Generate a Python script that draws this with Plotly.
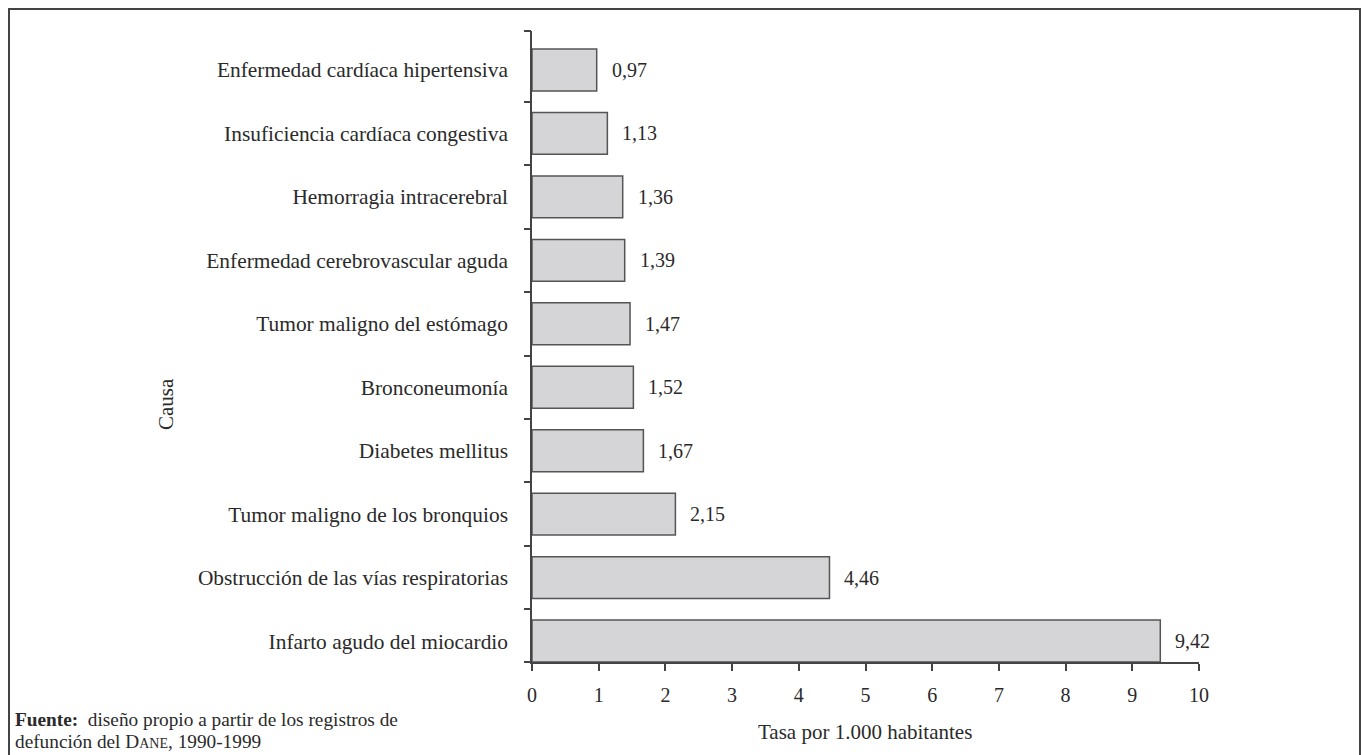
import plotly.graph_objects as go

causas = [
    "Infarto agudo del miocardio",
    "Obstrucción de las vías respiratorias",
    "Tumor maligno de los bronquios",
    "Diabetes mellitus",
    "Bronconeumonía",
    "Tumor maligno del estómago",
    "Enfermedad cerebrovascular aguda",
    "Hemorragia intracerebral",
    "Insuficiencia cardíaca congestiva",
    "Enfermedad cardíaca hipertensiva",
]
tasas = [9.42, 4.46, 2.15, 1.67, 1.52, 1.47, 1.39, 1.36, 1.13, 0.97]
x_ticks = [0, 1, 2, 3, 4, 5, 6, 7, 8, 9, 10]

FONT = "Liberation Serif, Times New Roman, serif"
TXT = "#2a2a2a"
FS = 21
BAR_W = 0.66

W, H = 1361, 755
L, R, T, B = 532, 162, 31, 93
pw, ph = W - L - R, H - T - B

# y range: bottom bar sits on the x axis; axis extends a little above the top bar
y_lo = -BAR_W / 2
y_hi = len(causas) - 1 + 0.614
# ticks between categories, plus caps at both ends of the axis
y_tick_pos = [y_lo] + [i + 0.5 for i in range(len(causas) - 1)] + [y_hi]

def px_x(px):
    return (px - L) / pw

def px_y(py):
    return (H - B - py) / ph

fig = go.Figure()
fig.add_trace(go.Bar(
    x=tasas, y=causas, orientation="h",
    marker=dict(color="#d5d5d7", line=dict(color="#555555", width=1.5)),
    width=BAR_W, showlegend=False, hoverinfo="x+y",
))
# invisible trace to anchor the tick-only axis
fig.add_trace(go.Scatter(
    x=[0], y=[0], yaxis="y2", mode="markers",
    marker=dict(opacity=0), showlegend=False, hoverinfo="skip",
))

annotations = []
for c, v in zip(causas, tasas):
    annotations.append(dict(
        x=v, y=c, xref="x", yref="y", text=f"{v:.2f}".replace(".", ","),
        showarrow=False, xanchor="left", yanchor="middle", xshift=13,
        font=dict(family=FONT, size=20, color=TXT),
    ))

annotations.append(dict(
    x=px_x(13), y=px_y(719), xref="paper", yref="paper",
    xanchor="left", yanchor="middle", align="left", showarrow=False,
    text="<b>Fuente:</b>  diseño propio a partir de los registros de",
    font=dict(family=FONT, size=19.3, color=TXT),
))
annotations.append(dict(
    x=px_x(13), y=px_y(741), xref="paper", yref="paper",
    xanchor="left", yanchor="middle", align="left", showarrow=False,
    text="defunción del D<span style='font-size:14px'>ANE</span>, 1990-1999",
    font=dict(family=FONT, size=19.3, color=TXT),
))
annotations.append(dict(
    x=px_x(865), y=px_y(732), xref="paper", yref="paper",
    xanchor="center", yanchor="middle", showarrow=False,
    text="Tasa por 1.000 habitantes",
    font=dict(family=FONT, size=FS, color=TXT),
))
annotations.append(dict(
    x=px_x(166), y=px_y(404), xref="paper", yref="paper",
    xanchor="center", yanchor="middle", showarrow=False, textangle=-90,
    text="Causa",
    font=dict(family=FONT, size=FS, color=TXT),
))

fig.update_layout(
    width=W, height=H,
    margin=dict(l=L, r=R, t=T, b=B, pad=0),
    paper_bgcolor="white", plot_bgcolor="white",
    annotations=annotations,
    shapes=[dict(
        type="rect", xref="paper", yref="paper",
        x0=px_x(9), x1=px_x(1360), y0=px_y(790), y1=px_y(9),
        line=dict(color="#444444", width=2), fillcolor="rgba(0,0,0,0)", layer="below",
    )],
    xaxis=dict(
        range=[0, 10], tickvals=x_ticks, ticktext=[str(t) for t in x_ticks],
        showline=True, linecolor="#444444", linewidth=1.5,
        ticks="outside", ticklen=7, tickcolor="#444444", tickwidth=1.5,
        showgrid=False, zeroline=False,
        ticklabelstandoff=7,
        tickfont=dict(family=FONT, size=20, color=TXT),
    ),
    yaxis=dict(
        type="category", categoryorder="array", categoryarray=causas,
        range=[y_lo, y_hi],
        showline=True, linecolor="#444444", linewidth=1.5,
        ticks="", showgrid=False, zeroline=False,
        ticklabelstandoff=18,
        tickfont=dict(family=FONT, size=21.4, color=TXT),
    ),
    yaxis2=dict(
        overlaying="y", side="left", anchor="x",
        range=[y_lo, y_hi], tickvals=y_tick_pos,
        showticklabels=False, showline=False, showgrid=False, zeroline=False,
        ticks="outside", ticklen=7, tickcolor="#444444", tickwidth=1.5,
    ),
)

fig.write_html(
    "out.html",
    config={"displayModeBar": False},
    post_script="document.body.style.margin='0';document.body.style.overflow='hidden';",
)
